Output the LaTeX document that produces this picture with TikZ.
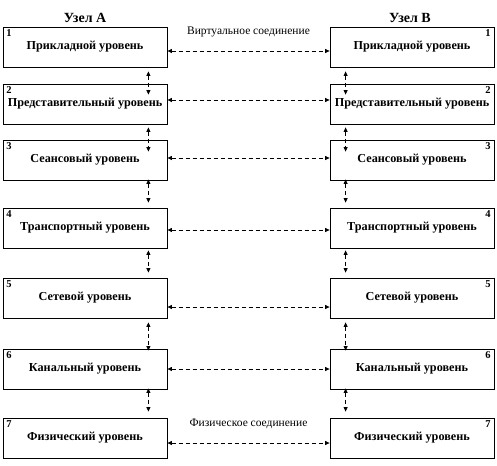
\documentclass[tikz,border=0pt]{standalone}
\usepackage{fontspec}
\setmainfont{Liberation Serif}
\usetikzlibrary{positioning,calc,arrows.meta}

\begin{document}
\begin{tikzpicture}[
    x=1pt,y=-1pt,
    >={Triangle[length=4.5pt,width=4pt]},
    layer/.style={rectangle,draw,line width=0.8pt,minimum width=164pt,minimum height=40pt,
        inner sep=0pt,font=\fontsize{12.2}{14}\selectfont\bfseries},
    link/.style={<->,dash pattern=on 4pt off 3pt,line width=0.7pt},
    num/.style={font=\fontsize{10.5}{12}\selectfont\bfseries,inner xsep=3.5pt,inner ysep=2.5pt},
    title/.style={font=\fontsize{14}{16}\selectfont\bfseries,inner sep=1pt},
    conn/.style={font=\fontsize{11.5}{13}\selectfont,inner sep=1pt},
]
\useasboundingbox (0,0) rectangle (497,465);

% === LAYERS (node A left, node B right) ===
\foreach \i/\name/\yc/\dy in {1/Прикладной уровень/47/-4,
        2/Представительный уровень/104/4,
        3/Сеансовый уровень/160/2,
        4/Транспортный уровень/228/-2,
        5/Сетевой уровень/298/-9,
        6/Канальный уровень/369/0,
        7/Физический уровень/438/-5}{
    \node[layer] (A\i) at (85,\yc) {\name};
    \node[layer] (B\i) at (412,\yc) {\name};
    \node[num,anchor=north west] (nA\i) at (A\i.north west) {\i};
    \node[num,anchor=north east] (nB\i) at (B\i.north east) {\i};
    % peer connection
    \draw[link] ([yshift=\dy pt]A\i.east) -- ([yshift=\dy pt]B\i.west);
}

% === INTERFACES BETWEEN LAYERS ===
\foreach \i/\j/\s/\e in {1/2/4/11,2/3/3/12,3/4/-1/-5,4/5/2/-5,5/6/4/2,6/7/-1/-6}{
    \draw[link] ($(A\i.south east)+(-19,\s)$) -- ($(A\j.north east)+(-19,\e)$);
    \draw[link] ($(B\i.south west)+(16,\s)$) -- ($(B\j.north west)+(16,\e)$);
}

% === TITLES ===
\node[title,above=3pt of A1] (tA) {Узел А};
\node[title,above=3pt of B1,xshift=-2pt] (tB) {Узел В};

\node[conn] (virt) at ($(A1.north east)!0.5!(B1.north west)+(0,5)$) {Виртуальное соединение};
\node[conn] (phys) at ($(A7.north east)!0.5!(B7.north west)+(0,6)$) {Физическое соединение};

\end{tikzpicture}
\end{document}
